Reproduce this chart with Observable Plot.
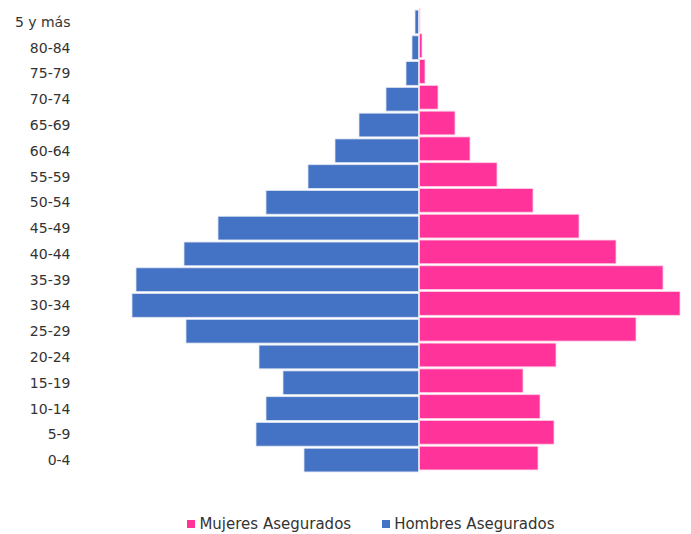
<!DOCTYPE html>
<html>
<head>
<meta charset="utf-8">
<script src="https://cdn.jsdelivr.net/npm/d3@7"></script>
<script src="https://cdn.jsdelivr.net/npm/@observablehq/plot@0.6"></script>
<style>
  body { margin: 0; background: #fff; font-family: "DejaVu Sans", sans-serif; }
  #chart svg { display: block; }
  .legend { display: flex; justify-content: center; gap: 31px; padding-top: 15px; font-size: 15px; color: #333; padding-left: 51px; }
  .legend span.sw { display: inline-block; width: 8px; height: 8px; margin-right: 4px; vertical-align: 1px; }
</style>
</head>
<body>
<div id="chart"></div>
<div class="legend" id="legend"></div>
<script>
const ageGroups = ["0-4","5-9","10-14","15-19","20-24","25-29","30-34","35-39","40-44","45-49","50-54","55-59","60-64","65-69","70-74","75-79","80-84","5 y más"];
const hombres = [115,163,153,136,160,233,287,283,235,201,153,111,84,60,33,13,7,4];
const mujeres = [119,135,121,104,137,217,261,244,197,160,114,78,51,36,19,6,3,1];
const seriesNames = ["Mujeres Asegurados", "Hombres Asegurados"];
const seriesColors = ["#FF3399", "#4472C4"];

const rows = [];
ageGroups.forEach((g, i) => {
  rows.push({age: g, sexo: "Hombres Asegurados", v: -hombres[i]});
  rows.push({age: g, sexo: "Mujeres Asegurados", v: mujeres[i]});
});

const chart = Plot.plot({
  width: 691,
  height: 500,
  marginTop: 8,
  marginBottom: 26,
  marginLeft: 78,
  marginRight: 11,
  style: {fontFamily: "DejaVu Sans, sans-serif", fontSize: "14px", color: "#333"},
  x: {domain: [-341, 261], axis: null},
  y: {domain: ageGroups.slice().reverse(), padding: 0.08, round: false, label: null, tickSize: 0, tickPadding: 8},
  color: {domain: seriesNames, range: seriesColors},
  marks: [
    Plot.barX(rows.filter(d => d.sexo === "Hombres Asegurados"), {x: "v", y: "age", fill: "sexo", stroke: "#dfe6f3", strokeWidth: 0.8, insetRight: 0.5}),
    Plot.barX(rows.filter(d => d.sexo === "Mujeres Asegurados"), {x: "v", y: "age", fill: "sexo", stroke: "#ffd0e6", strokeWidth: 0.8, insetLeft: 0.5, dy: -2}),
    Plot.axisY({tickSize: 0, tickPadding: 8, fontSize: 14, fill: "#333"})
  ]
});
document.getElementById("chart").appendChild(chart);

const legend = document.getElementById("legend");
seriesNames.forEach((name, i) => {
  const item = document.createElement("div");
  item.innerHTML = `<span class="sw" style="background:${seriesColors[i]}"></span>${name}`;
  legend.appendChild(item);
});
</script>
</body>
</html>
